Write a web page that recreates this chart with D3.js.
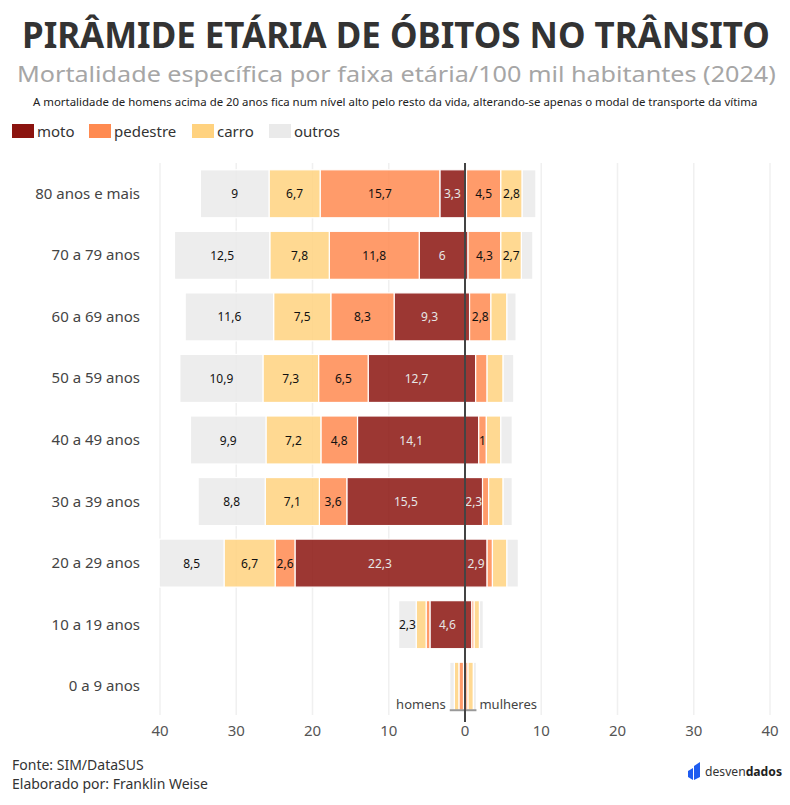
<!DOCTYPE html>
<html>
<head>
<meta charset="utf-8">
<script src="https://cdn.jsdelivr.net/npm/d3@7"></script>
<style>
  body { margin: 0; background: #fff; }
  svg { display: block; font-family: 'Noto Sans', sans-serif; }
</style>
</head>
<body>
<svg id="chart" width="790" height="805"></svg>
<script>
// faixas etárias, de cima para baixo
const categories = ['80 anos e mais', '70 a 79 anos', '60 a 69 anos', '50 a 59 anos',
  '40 a 49 anos', '30 a 39 anos', '20 a 29 anos', '10 a 19 anos', '0 a 9 anos']
const modais = ['moto', 'pedestre', 'carro', 'outros']
const modalColors = ['#8b140f', '#ff8a50', '#ffd27f', '#eaeaea']

// óbitos por 100 mil habitantes
const homensMoto = [3.3, 6, 9.3, 12.7, 14.1, 15.5, 22.3, 4.6, 0.2]
const homensPedestre = [15.7, 11.8, 8.3, 6.5, 4.8, 3.6, 2.6, 0.5, 0.6]
const homensCarro = [6.7, 7.8, 7.5, 7.3, 7.2, 7.1, 6.7, 1.3, 0.6]
const homensOutros = [9, 12.5, 11.6, 10.9, 9.9, 8.8, 8.5, 2.3, 0.6]
const mulheresMoto = [0.2, 0.4, 0.6, 1.4, 1.8, 2.3, 2.9, 0.9, 0.1]
const mulheresPedestre = [4.5, 4.3, 2.8, 1.5, 1, 0.8, 0.7, 0.3, 0.3]
const mulheresCarro = [2.8, 2.7, 2.1, 2.1, 1.9, 1.9, 1.9, 0.7, 0.7]
const mulheresOutros = [1.8, 1.5, 1.2, 1.4, 1.5, 1.2, 1.5, 0.5, 0.4]

const xTicks = [-40, -30, -20, -10, 0, 10, 20, 30, 40]

const svg = d3.select('#chart')
const fmt = (v) => d3.format('.1~f')(v).replace('.', ',')

const x = d3.scaleLinear().domain([-40, 40]).range([160, 770])
const y = d3.scaleBand().domain(categories).range([163, 717])
  .paddingInner(0.22).paddingOuter(0.11)
const color = d3.scaleOrdinal().domain(modais).range(modalColors)

// ajusta um texto na largura pedida, comprimindo horizontalmente
function fitText(sel, x0, y0, width) {
  const natural = sel.node().getComputedTextLength()
  sel.attr('transform', `translate(${x0}, ${y0}) scale(${width / natural}, 1)`)
}

// titulos
const title = svg.append('text')
  .style('font-size', '36px').style('font-weight', 700).style('fill', '#333')
  .text('PIRÂMIDE ETÁRIA DE ÓBITOS NO TRÂNSITO')
fitText(title, 22, 48, 748)

const subtitle = svg.append('text')
  .style('font-size', '22px').style('fill', '#a6a6a6')
  .text('Mortalidade específica por faixa etária/100 mil habitantes (2024)')
fitText(subtitle, 17, 82, 759)

const note = svg.append('text')
  .style('font-size', '11px').style('fill', '#222')
  .text('A mortalidade de homens acima de 20 anos fica num nível alto pelo resto da vida, alterando-se apenas o modal de transporte da vítima')
fitText(note, 33, 106, 725)

// legenda
const legendX = [12, 89, 192, 269]
const legend = svg.append('g')
  .selectAll('g')
  .data(modais)
  .join('g')
  .attr('transform', (d, i) => `translate(${legendX[i]}, 124)`)
legend.append('rect')
  .attr('width', 22).attr('height', 14)
  .attr('fill', (d) => color(d))
legend.append('text')
  .attr('x', 25).attr('y', 12.5)
  .style('font-size', '15px').style('fill', '#333')
  .text((d) => d)

// grade
svg.append('g')
  .selectAll('line')
  .data(xTicks.filter((d) => d !== 0))
  .join('line')
  .attr('x1', (d) => x(d)).attr('x2', (d) => x(d))
  .attr('y1', 163).attr('y2', 715)
  .attr('stroke', '#f0f0f0').attr('stroke-width', 1.5)

svg.append('g')
  .selectAll('text')
  .data(xTicks)
  .join('text')
  .attr('x', (d) => x(d)).attr('y', 736)
  .attr('text-anchor', 'middle')
  .style('font-size', '15px').style('fill', '#555')
  .text((d) => Math.abs(d))

// rótulos das faixas
svg.append('g')
  .selectAll('text')
  .data(categories)
  .join('text')
  .attr('x', 140).attr('y', (d) => y(d) + y.bandwidth() / 2 + 5)
  .attr('text-anchor', 'end')
  .style('font-size', '15px').style('fill', '#444')
  .text((d) => d)

// segmentos empilhados a partir do zero
const homens = [homensMoto, homensPedestre, homensCarro, homensOutros]
const mulheres = [mulheresMoto, mulheresPedestre, mulheresCarro, mulheresOutros]
const segments = []
categories.forEach((cat, ci) => {
  let accH = 0
  let accM = 0
  modais.forEach((m, mi) => {
    const vh = homens[mi][ci]
    segments.push({cat, modal: m, value: vh, x0: -accH - vh, x1: -accH})
    accH += vh
    const vm = mulheres[mi][ci]
    segments.push({cat, modal: m, value: vm, x0: accM, x1: accM + vm})
    accM += vm
  })
})

const segG = svg.append('g')
  .selectAll('g')
  .data(segments)
  .join('g')

segG.append('rect')
  .attr('x', (d) => x(d.x0))
  .attr('y', (d) => y(d.cat))
  .attr('width', (d) => x(d.x1) - x(d.x0))
  .attr('height', y.bandwidth())
  .attr('fill', (d) => color(d.modal))
  .attr('fill-opacity', 0.85)
  .attr('stroke', '#fff').attr('stroke-width', 1.2)

segG.append('text')
  .attr('x', (d) => (x(d.x0) + x(d.x1)) / 2)
  .attr('y', (d) => y(d.cat) + y.bandwidth() / 2 + 4.5)
  .attr('text-anchor', 'middle')
  .style('font-size', '12px')
  .style('fill', (d) => d.modal === 'moto' ? '#e6e6e6' : '#111')
  .text((d) => fmt(d.value))
  .each(function(d) {
    const w = x(d.x1) - x(d.x0)
    if (this.getComputedTextLength() > w) d3.select(this).remove()
  })

// marcação homens / mulheres sob a última faixa
const lastCat = categories[categories.length - 1]
const lastIdx = categories.length - 1
const menTotal = d3.sum(homens, (s) => s[lastIdx])
const womenTotal = d3.sum(mulheres, (s) => s[lastIdx])
const markY = y(lastCat) + y.bandwidth()
svg.append('line')
  .attr('x1', x(-menTotal)).attr('x2', x(womenTotal))
  .attr('y1', markY).attr('y2', markY)
  .attr('stroke', '#999').attr('stroke-width', 2)
svg.append('text')
  .attr('x', x(-menTotal) - 4).attr('y', markY - 1)
  .attr('text-anchor', 'end')
  .style('font-size', '13px').style('fill', '#444')
  .text('homens')
svg.append('text')
  .attr('x', x(womenTotal) + 3).attr('y', markY - 1)
  .style('font-size', '13px').style('fill', '#444')
  .text('mulheres')

// linha do zero
svg.append('line')
  .attr('x1', x(0)).attr('x2', x(0))
  .attr('y1', 163).attr('y2', 722)
  .attr('stroke', '#444').attr('stroke-width', 2)

// rodapé
svg.append('text')
  .attr('x', 12).attr('y', 770)
  .style('font-size', '14px').style('fill', '#333')
  .text('Fonte: SIM/DataSUS')
svg.append('text')
  .attr('x', 12).attr('y', 789)
  .style('font-size', '14px').style('fill', '#333')
  .text('Elaborado por: Franklin Weise')

const logo = svg.append('g').attr('transform', 'translate(688, 762)')
logo.append('path')
  .attr('d', 'M0,9 L5,6 L5,18 L0,15 Z')
  .attr('fill', '#1f5cf0')
logo.append('path')
  .attr('d', 'M6,4 L12,0 L12,15 L6,18 Z')
  .attr('fill', '#1f5cf0')
const logoText = svg.append('text')
  .style('font-size', '13px').style('fill', '#333')
logoText.append('tspan').text('desven')
logoText.append('tspan').style('font-weight', 700).style('fill', '#222').text('dados')
fitText(logoText, 705, 776, 77)
</script>
</body>
</html>
